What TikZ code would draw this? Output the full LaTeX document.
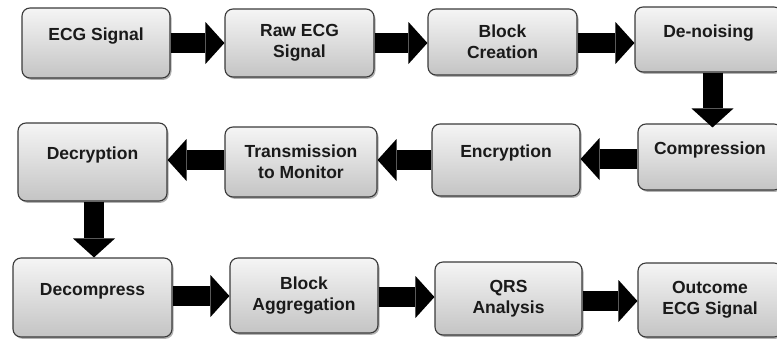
\documentclass[tikz,border=0pt]{standalone}
\usepackage{fontspec}
\setmainfont{Liberation Sans}
\usetikzlibrary{arrows.meta,shadows}
\definecolor{boxtop}{HTML}{F5F5F5}
\definecolor{boxbot}{HTML}{C4C4C4}
\definecolor{boxline}{HTML}{3A3A3A}
\definecolor{txt}{HTML}{1A1A1A}
\tikzset{
  box/.style={draw=boxline, line width=1.1pt, rounded corners=8pt,
    top color=boxtop, bottom color=boxbot, align=center, inner sep=2pt,
    text=txt, font=\fontsize{17.5}{21}\selectfont\bfseries,
    drop shadow={shadow xshift=1.5pt, shadow yshift=-1.8pt, fill=black, opacity=0.3}},
  oneline/.style={text height=12pt, text depth=17pt},
  blockarrow/.style={draw=black, line width=20pt, line cap=butt,
    -{Triangle[width=42pt,length=19pt,line width=0pt]}}
}
\begin{document}
\begin{tikzpicture}[x=1pt,y=-1pt]
\useasboundingbox (0,0) rectangle (777,338);
% row 1
\node[box,oneline,minimum width=148pt,minimum height=70pt] (ecg) at (96,43) {ECG Signal};
\node[box,minimum width=149pt,minimum height=68pt] (raw) at (299.5,43) {Raw ECG\\Signal};
\node[box,minimum width=149pt,minimum height=66pt] (blk) at (502.5,42) {Block\\Creation};
\node[box,oneline,minimum width=147pt,minimum height=65pt] (den) at (708.5,39.5) {De-noising};
% row 2
\node[box,oneline,minimum width=144pt,minimum height=66pt] (comp) at (710,157) {Compression};
\node[box,oneline,minimum width=148pt,minimum height=72pt] (enc) at (506,160) {Encryption};
\node[box,minimum width=152pt,minimum height=70pt] (trans) at (301,162) {Transmission\\to Monitor};
\node[box,oneline,minimum width=149pt,minimum height=78pt] (decr) at (92.5,162) {Decryption};
% row 3
\node[box,oneline,minimum width=159pt,minimum height=79pt] (decomp) at (92.5,297.5) {Decompress};
\node[box,minimum width=148pt,minimum height=75pt] (bagg) at (304,295.5) {Block\\Aggregation};
\node[box,minimum width=147pt,minimum height=73pt] (qrs) at (508.5,298.5) {QRS\\Analysis};
\node[box,minimum width=144pt,minimum height=74pt] (out) at (710,300) {Outcome\\ECG Signal};
% arrows
\draw[blockarrow] (ecg.east) -- (ecg.east -| raw.west);
\draw[blockarrow] (raw.east) -- (raw.east -| blk.west);
\draw[blockarrow] ([yshift=-1pt]blk.east) -- ([yshift=-1pt]blk.east -| den.west);
\path (den.south) ++(4,0) coordinate (dd);
\draw[blockarrow] (dd) -- ([yshift=-4pt]dd |- comp.north);
\draw[blockarrow] ([yshift=-2pt]comp.west) -- ([yshift=-2pt]comp.west -| enc.east);
\draw[blockarrow] (enc.west) -- (enc.west -| trans.east);
\draw[blockarrow] ([yshift=2pt]trans.west) -- ([yshift=2pt]trans.west -| decr.east);
\path (decr.south) ++(1.5,0) coordinate (cd);
\draw[blockarrow] (cd) -- (cd |- decomp.north);
\draw[blockarrow] ([yshift=1.5pt]decomp.east) -- ([yshift=1.5pt]decomp.east -| bagg.west);
\draw[blockarrow] ([yshift=-1.5pt]bagg.east) -- ([yshift=-1.5pt]bagg.east -| qrs.west);
\draw[blockarrow] ([yshift=-2.5pt]qrs.east) -- ([yshift=-2.5pt]qrs.east -| out.west);
\end{tikzpicture}
\end{document}
